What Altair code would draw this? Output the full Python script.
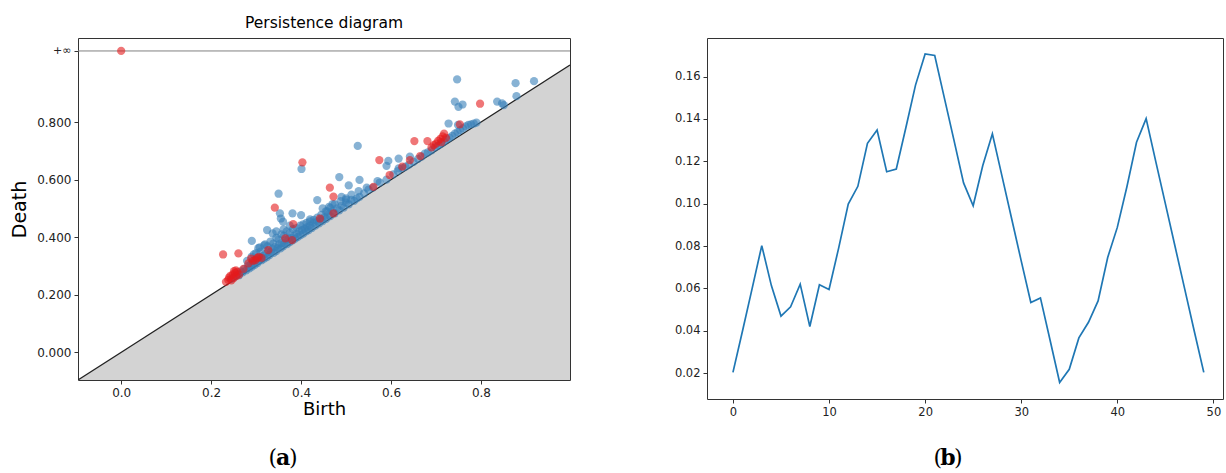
import altair as alt
import pandas as pd

# ---------------- Panel (a): persistence diagram ----------------
blue_birth = [
    0.245, 0.252, 0.258, 0.262, 0.266, 0.270, 0.274, 0.278, 0.282, 0.285,
    0.288, 0.291, 0.294, 0.297, 0.300, 0.303, 0.306, 0.309, 0.312, 0.315,
    0.318, 0.321, 0.324, 0.327, 0.330, 0.333, 0.336, 0.339, 0.342, 0.345,
    0.348, 0.351, 0.354, 0.357, 0.360, 0.363, 0.366, 0.369, 0.372, 0.375,
    0.378, 0.381, 0.384, 0.387, 0.390, 0.393, 0.396, 0.399, 0.402, 0.405,
    0.408, 0.411, 0.414, 0.417, 0.420, 0.424, 0.428, 0.432, 0.436, 0.440,
    0.444, 0.448, 0.452, 0.456, 0.460, 0.465, 0.470, 0.475, 0.480, 0.485,
    0.490, 0.495, 0.500, 0.506, 0.512, 0.518, 0.524, 0.530, 0.540, 0.550,
    0.560, 0.575, 0.590, 0.605, 0.615, 0.625, 0.632, 0.640, 0.650, 0.660,
    0.668, 0.675, 0.682, 0.690, 0.698, 0.705, 0.712, 0.718, 0.724, 0.730,
    0.736, 0.742, 0.748, 0.754, 0.760, 0.766, 0.772, 0.778, 0.784, 0.790,
    0.280, 0.290, 0.300, 0.305, 0.310, 0.318, 0.325, 0.332, 0.338, 0.345,
    0.350, 0.356, 0.362, 0.368, 0.375, 0.382, 0.390, 0.398, 0.405, 0.412,
    0.420, 0.428, 0.436, 0.445, 0.455, 0.465, 0.475, 0.488, 0.500, 0.512,
    0.747, 0.877, 0.918, 0.879, 0.742, 0.750, 0.759, 0.836, 0.847, 0.851,
    0.728, 0.749, 0.526, 0.617, 0.594, 0.590, 0.642, 0.617, 0.401, 0.485,
    0.530, 0.506, 0.570, 0.350, 0.436, 0.528, 0.546, 0.353, 0.355, 0.360,
    0.381, 0.400, 0.2905, 0.3245, 0.337, 0.361, 0.320, 0.345, 0.462, 0.470,
    0.458, 0.490, 0.500, 0.448, 0.420, 0.375, 0.308, 0.295,
]
blue_death = [
    0.255, 0.262, 0.270, 0.268, 0.281, 0.278, 0.290, 0.285, 0.300, 0.292,
    0.305, 0.298, 0.312, 0.304, 0.322, 0.310, 0.318, 0.330, 0.320, 0.335,
    0.326, 0.342, 0.331, 0.350, 0.338, 0.348, 0.360, 0.346, 0.366, 0.352,
    0.362, 0.375, 0.361, 0.380, 0.368, 0.378, 0.390, 0.376, 0.395, 0.383,
    0.398, 0.389, 0.405, 0.395, 0.412, 0.401, 0.420, 0.407, 0.425, 0.413,
    0.430, 0.420, 0.435, 0.425, 0.440, 0.432, 0.450, 0.440, 0.455, 0.448,
    0.462, 0.456, 0.470, 0.464, 0.478, 0.473, 0.490, 0.483, 0.500, 0.493,
    0.510, 0.503, 0.520, 0.514, 0.530, 0.526, 0.535, 0.540, 0.552, 0.565,
    0.572, 0.590, 0.600, 0.618, 0.630, 0.640, 0.645, 0.652, 0.662, 0.672,
    0.680, 0.690, 0.695, 0.702, 0.712, 0.718, 0.725, 0.732, 0.740, 0.745,
    0.752, 0.760, 0.765, 0.772, 0.778, 0.785, 0.790, 0.792, 0.795, 0.798,
    0.318, 0.332, 0.345, 0.362, 0.350, 0.372, 0.368, 0.385, 0.378, 0.398,
    0.392, 0.410, 0.405, 0.420, 0.415, 0.428, 0.432, 0.440, 0.445, 0.450,
    0.455, 0.460, 0.468, 0.478, 0.490, 0.502, 0.515, 0.525, 0.535, 0.548,
    0.948, 0.935, 0.942, 0.890, 0.871, 0.853, 0.861, 0.871, 0.865, 0.859,
    0.795, 0.790, 0.717, 0.673, 0.665, 0.648, 0.680, 0.639, 0.637, 0.609,
    0.599, 0.580, 0.595, 0.551, 0.529, 0.560, 0.572, 0.483, 0.465, 0.454,
    0.483, 0.477, 0.387, 0.425, 0.413, 0.427, 0.375, 0.420, 0.505, 0.515,
    0.490, 0.540, 0.530, 0.500, 0.462, 0.440, 0.365, 0.340,
]
red_birth = [
    0.2266, 0.2607, 0.3416, 0.3825, 0.403, 0.464, 0.472, 0.574, 0.597, 0.652,
    0.681, 0.798, 0.753, 0.700, 0.705, 0.710, 0.715, 0.718, 0.712, 0.722,
    0.695, 0.690, 0.665, 0.642, 0.625, 0.561, 0.442, 0.472, 0.233, 0.238,
    0.240, 0.245, 0.248, 0.250, 0.253, 0.256, 0.258, 0.262, 0.255, 0.289,
    0.306, 0.283, 0.327, 0.365, 0.380, 0.298, 0.312, 0.272, 0.293, 0.302,
    0.243, 0.251,
]
red_death = [
    0.340, 0.344, 0.5025, 0.4457, 0.660, 0.572, 0.5407, 0.668, 0.616, 0.734,
    0.734, 0.8637, 0.792, 0.725, 0.735, 0.742, 0.750, 0.760, 0.730, 0.745,
    0.720, 0.712, 0.682, 0.668, 0.645, 0.575, 0.465, 0.483, 0.245, 0.252,
    0.260, 0.250, 0.270, 0.258, 0.275, 0.265, 0.280, 0.270, 0.285, 0.326,
    0.332, 0.309, 0.355, 0.396, 0.390, 0.320, 0.328, 0.290, 0.318, 0.327,
    0.266, 0.282,
]
inf_birth = [0.0]          # points that never die (drawn on the +inf line)
INF_LEVEL = 1.047          # death value used for the +inf line
pd_x_domain = [-0.096, 0.998]
pd_y_domain = [-0.096, 1.092]
pd_x_ticks = [0.0, 0.2, 0.4, 0.6, 0.8]
pd_y_ticks = [0.0, 0.2, 0.4, 0.6, 0.8, INF_LEVEL]

# ---------------- Panel (b): curve ----------------
curve_y = [
    0.0203, 0.0400, 0.0600, 0.0802, 0.0613, 0.0469, 0.0513, 0.0620, 0.0420, 0.0617,
    0.0595, 0.0790, 0.0998, 0.1082, 0.1285, 0.1348, 0.1151, 0.1164, 0.1360, 0.1560,
    0.1707, 0.1700, 0.1500, 0.1300, 0.1098, 0.0990, 0.1180, 0.1330, 0.1130, 0.0930,
    0.0730, 0.0533, 0.0555, 0.0356, 0.0156, 0.0218, 0.0366, 0.0440, 0.0541, 0.0746,
    0.0888, 0.1080, 0.1290, 0.1402, 0.1200, 0.1000, 0.0800, 0.0600, 0.0400, 0.0203,
]
curve_x = list(range(len(curve_y)))
cv_x_domain = [-2.7, 51.0]
cv_y_domain = [0.00775, 0.17825]
cv_x_ticks = [0, 10, 20, 30, 40, 50]
cv_y_ticks = [0.02, 0.04, 0.06, 0.08, 0.10, 0.12, 0.14, 0.16]

FONT = "DejaVu Sans"
RED = "#e41a1c"
BLUE = "#377eb8"

# ---------- build panel (a) ----------
pts = pd.concat([
    pd.DataFrame({"birth": blue_birth, "death": blue_death, "dim": "H1"}),
    pd.DataFrame({"birth": red_birth, "death": red_death, "dim": "H0"}),
    pd.DataFrame({"birth": inf_birth, "death": [INF_LEVEL] * len(inf_birth), "dim": "H0"}),
], ignore_index=True)
pts["order"] = pts["dim"].map({"H1": 0, "H0": 1})

diag = pd.DataFrame({"x": pd_x_domain, "y": pd_x_domain, "y0": [pd_y_domain[0]] * 2})
infl = pd.DataFrame({"x": pd_x_domain, "y": [INF_LEVEL] * 2})

xs = alt.Scale(domain=pd_x_domain, nice=False, zero=False)
ys = alt.Scale(domain=pd_y_domain, nice=False, zero=False)

x_axis = alt.Axis(values=pd_x_ticks, format=".1f", title="Birth", titleFontSize=18,
                  titlePadding=2, labelFontSize=12)
y_axis = alt.Axis(values=pd_y_ticks, title="Death", titleFontSize=19, titlePadding=7,
                  labelExpr="datum.value > 1 ? '+∞' : format(datum.value, '.3f')",
                  labelFontSize={"condition": {"test": "datum.value > 1", "value": 11}, "value": 12})

area = alt.Chart(diag).mark_area(color="#d3d3d3", clip=True).encode(
    x=alt.X("x:Q", scale=xs, axis=x_axis),
    y=alt.Y("y:Q", scale=ys, axis=y_axis),
    y2="y0:Q",
)
diag_line = alt.Chart(diag).mark_line(color="#222222", strokeWidth=1.2, clip=True).encode(
    x="x:Q", y="y:Q"
)
inf_line = alt.Chart(infl).mark_line(color="#808080", strokeWidth=1, clip=True).encode(
    x="x:Q", y="y:Q"
)
points = alt.Chart(pts).mark_circle(size=68, opacity=0.6).encode(
    x="birth:Q",
    y="death:Q",
    color=alt.Color("dim:N", scale=alt.Scale(domain=["H0", "H1"], range=[RED, BLUE]), legend=None),
    order="order:Q",
)

def caption(letter, cx, cy):
    dummy = pd.DataFrame({"k": [0]})
    base = alt.Chart(dummy)
    lp = base.mark_text(text="(", font="DejaVu Serif", fontSize=22, align="right",
                        baseline="middle", color="black").encode(
        x=alt.value(cx - 6), y=alt.value(cy))
    mid = base.mark_text(text=letter, font="DejaVu Serif", fontSize=22, fontWeight="bold",
                         align="center", baseline="middle", color="black").encode(
        x=alt.value(cx), y=alt.value(cy))
    rp = base.mark_text(text=")", font="DejaVu Serif", fontSize=22, align="left",
                        baseline="middle", color="black").encode(
        x=alt.value(cx + 6), y=alt.value(cy))
    return [lp, mid, rp]

left = alt.layer(area, diag_line, inf_line, points, *caption("a", 205, 420)).properties(
    width=492, height=342,
    title=alt.TitleParams("Persistence diagram", fontSize=15.5, font=FONT, fontWeight="normal",
                          color="black", offset=7, anchor="middle"),
)

# ---------- build panel (b) ----------
cv = pd.DataFrame({"x": curve_x, "y": curve_y})
line = alt.Chart(cv).mark_line(color="#1f77b4", strokeWidth=1.7).encode(
    x=alt.X("x:Q", scale=alt.Scale(domain=cv_x_domain, nice=False, zero=False),
            axis=alt.Axis(values=cv_x_ticks, format="d", title=None, labelFontSize=11.5)),
    y=alt.Y("y:Q", scale=alt.Scale(domain=cv_y_domain, nice=False, zero=False),
            axis=alt.Axis(values=cv_y_ticks, format=".2f", title=None, labelFontSize=11.5)),
)
right = alt.layer(line, *caption("b", 241, 420)).properties(width=516, height=361)

chart = alt.hconcat(left, right, spacing=137, bounds="flush").properties(
    padding={"left": 10, "top": 15, "right": 0, "bottom": 0}
).configure_view(
    stroke="#333333", strokeWidth=1
).configure_axis(
    grid=False, domain=False, tickColor="#333333", tickSize=4, labelPadding=3,
    labelFont=FONT, labelColor="#222222", titleFont=FONT, titleFontWeight="normal",
    titleColor="black"
)

chart.save("out.html", embed_options={"renderer": "svg", "actions": False})
